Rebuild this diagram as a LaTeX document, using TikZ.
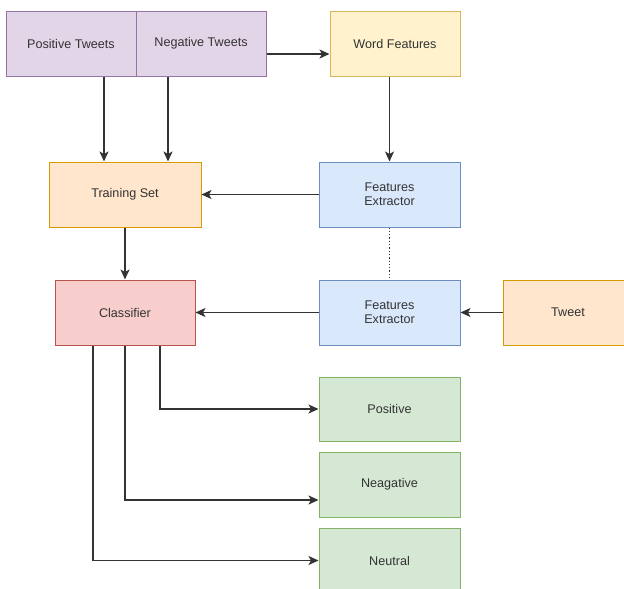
\documentclass[tikz,border=0pt]{standalone}
\usepackage{fontspec}
\setmainfont{Liberation Sans}
\usetikzlibrary{arrows.meta}
\definecolor{txt}{HTML}{333333}
\definecolor{purF}{HTML}{E1D5E7}\definecolor{purD}{HTML}{9673A6}
\definecolor{yelF}{HTML}{FFF2CC}\definecolor{yelD}{HTML}{D6B656}
\definecolor{oraF}{HTML}{FFE6CC}\definecolor{oraD}{HTML}{D79B00}
\definecolor{bluF}{HTML}{DAE8FC}\definecolor{bluD}{HTML}{6C8EBF}
\definecolor{redF}{HTML}{F8CECC}\definecolor{redD}{HTML}{B85450}
\definecolor{grnF}{HTML}{D5E8D4}\definecolor{grnD}{HTML}{82B366}
\tikzset{
  box/.style={draw, line width=1pt, rectangle, inner sep=0pt, align=center,
    font=\fontsize{12.6}{14}\selectfont, text=txt},
  purbox/.style={box, fill=purF, draw=purD},
  yelbox/.style={box, fill=yelF, draw=yelD},
  orabox/.style={box, fill=oraF, draw=oraD},
  blubox/.style={box, fill=bluF, draw=bluD},
  redbox/.style={box, fill=redF, draw=redD},
  grnbox/.style={box, fill=grnF, draw=grnD},
  conn/.style={draw=black!80, line width=1.3pt, -{Stealth[length=10pt,width=9pt,inset=2.5pt]}},
}
\begin{document}
\begin{tikzpicture}[x=1pt,y=-1pt]
\useasboundingbox (0,0) rectangle (624,589);
\clip (0,0) rectangle (624,589);
\fill[white] (0,0) rectangle (624,589);
\node[purbox, minimum width=130, minimum height=65] (pt) at (71,43.5) {Positive Tweets};
\node[purbox, minimum width=130, minimum height=65] (nt) at (201,43.5) {Negative Tweets};
\node[yelbox, minimum width=130, minimum height=65] (wf) at (395,43.5) {Word Features};
\node[orabox, minimum width=152, minimum height=65] (ts) at (125,194.5) {Training Set};
\node[blubox, minimum width=141, minimum height=65] (fe1) at (389.5,194.5) {Features\\Extractor};
\node[redbox, minimum width=140, minimum height=65] (cl) at (125,312.5) {Classifier};
\node[blubox, minimum width=141, minimum height=65] (fe2) at (389.5,312.5) {Features\\Extractor};
\node[orabox, minimum width=130, minimum height=65] (tw) at (568,312.5) {Tweet};
\node[grnbox, minimum width=141, minimum height=64] (pos) at (389.5,409) {Positive};
\node[grnbox, minimum width=141, minimum height=65] (neg) at (389.5,484.5) {Neagative};
\node[grnbox, minimum width=141, minimum height=65] (neu) at (389.5,560.5) {Neutral};
\draw[conn] (pt.south -| 104,0) -- (ts.north -| 104,0);
\draw[conn] (nt.south -| 168,0) -- (ts.north -| 168,0);
\draw[conn] (nt.east |- 0,54) -- (wf.west |- 0,54);
\draw[conn] (wf.south -| fe1.north) -- (fe1.north);
\draw[conn] (fe1.west) -- (ts.east);
\draw[conn] (ts.south) -- (cl.north);
\draw[conn] (fe2.west) -- (cl.east);
\draw[conn] (tw.west) -- (fe2.east);
\draw[draw=black!80, line width=1.3pt, dotted] (fe1.south) -- (fe2.north);
\draw[conn] (cl.south -| 160,0) |- (pos.west);
\draw[conn] (cl.south) |- (neg.west |- 0,500);
\draw[conn] (cl.south -| 93,0) |- (neu.west);
\end{tikzpicture}
\end{document}
